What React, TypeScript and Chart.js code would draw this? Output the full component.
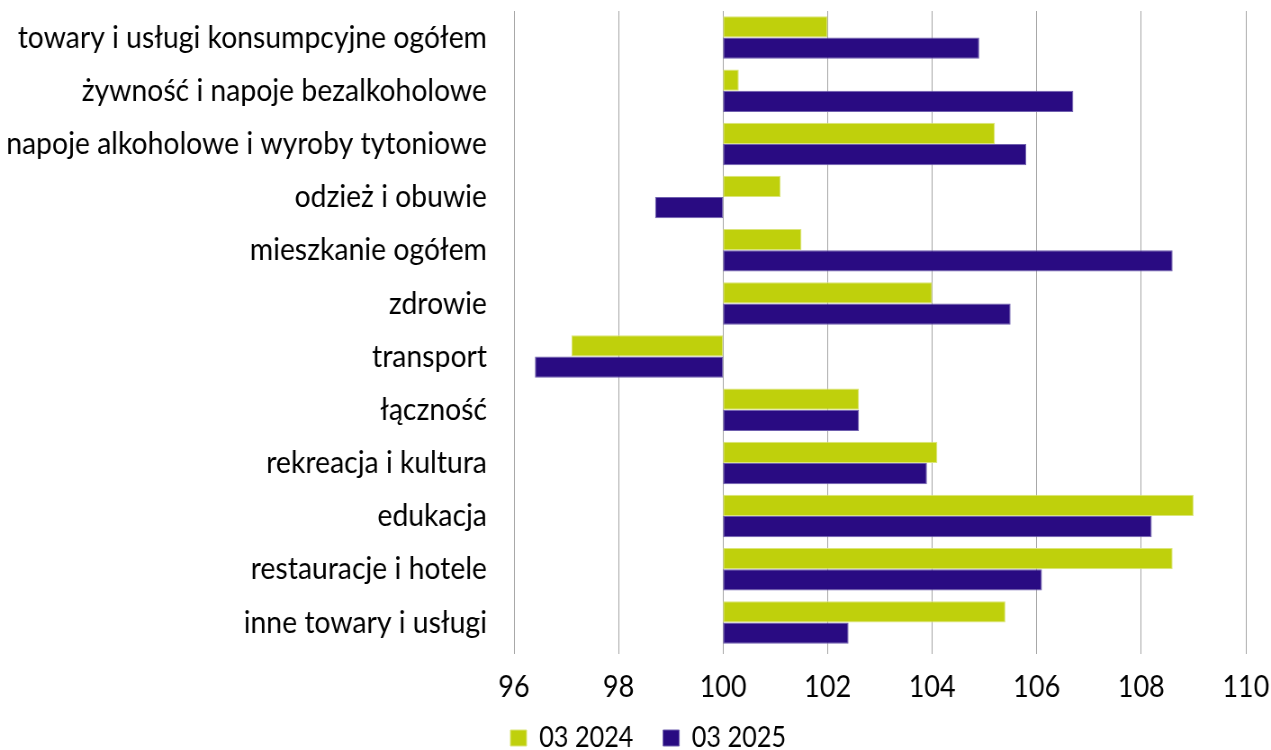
import React, { useEffect, useRef } from "react";
import { Chart, registerables } from "chart.js";

Chart.register(...registerables);

const categories = [
  "towary i usługi konsumpcyjne ogółem",
  "żywność i napoje bezalkoholowe",
  "napoje alkoholowe i wyroby tytoniowe",
  "odzież i obuwie",
  "mieszkanie ogółem",
  "zdrowie",
  "transport",
  "łączność",
  "rekreacja i kultura",
  "edukacja",
  "restauracje i hotele",
  "inne towary i usługi",
];

const series2024 = [102.0, 100.3, 105.2, 101.1, 101.5, 104.0, 97.1, 102.6, 104.1, 109.0, 108.6, 105.4];
const series2025 = [104.9, 106.7, 105.8, 98.7, 108.6, 105.5, 96.4, 102.6, 103.9, 108.2, 106.1, 102.4];

const seriesLabels = ["03 2024", "03 2025"];
const baseValue = 100;
const xMin = 96;
const xMax = 110;
const xStep = 2;

const FONT = "Lato";
// the reference is horizontally condensed; draw wider and squeeze with CSS
const SQUEEZE = 0.9;
const DISPLAY_W = 1271;
const CANVAS_W = Math.round(DISPLAY_W / SQUEEZE);
const CANVAS_H = 780;

export default function App() {
  const ref = useRef<HTMLCanvasElement | null>(null);

  useEffect(() => {
    if (!ref.current) return;
    const chart = new Chart(ref.current, {
      type: "bar",
      data: {
        labels: categories,
        datasets: [
          {
            label: seriesLabels[0],
            data: series2024.map((v) => [baseValue, v]) as any,
            backgroundColor: "#bfd00c",
            borderColor: "#dbe57a",
            borderWidth: 1,
            borderSkipped: false,
            categoryPercentage: 0.8,
            barPercentage: 1.0,
          },
          {
            label: seriesLabels[1],
            data: series2025.map((v) => [baseValue, v]) as any,
            backgroundColor: "#290b82",
            borderColor: "#6f5fae",
            borderWidth: 1,
            borderSkipped: false,
            categoryPercentage: 0.8,
            barPercentage: 1.0,
          },
        ],
      },
      options: {
        indexAxis: "y",
        animation: false,
        responsive: false,
        maintainAspectRatio: false,
        devicePixelRatio: 1,
        layout: { padding: { top: 11, right: 28, left: 0, bottom: 0 } },
        plugins: {
          tooltip: { enabled: false },
          legend: {
            position: "bottom",
            align: "start",
            labels: {
              boxWidth: 18,
              boxHeight: 16,
              padding: 33,
              color: "#000",
              font: { family: FONT, size: 28 },
            },
          },
        },
        scales: {
          x: {
            min: xMin,
            max: xMax,
            ticks: {
              stepSize: xStep,
              color: "#000",
              padding: 15,
              font: { family: FONT, size: 30 },
            },
            grid: {
              color: "#a3a3a3",
              lineWidth: 1,
              drawTicks: true,
              tickLength: 5,
            },
            border: { display: false },
            afterFit: (scale: any) => {
              scale.height = 60;
              scale.paddingLeft = 0;
              scale.paddingRight = 0;
            },
          },
          y: {
            ticks: {
              color: "#000",
              padding: 30,
              font: { family: FONT, size: 31.5 },
            },
            grid: { display: false, drawTicks: false },
            border: { display: false },
            afterFit: (scale: any) => {
              scale.width = Math.round(514 / SQUEEZE);
              scale.paddingTop = 0;
              scale.paddingBottom = 0;
            },
          },
        },
      },
      plugins: [
        {
          id: "legendPlace",
          afterLayout(c: any) {
            const lg = c.legend;
            if (lg) {
              const h = lg.height;
              lg.left = Math.round(510 / SQUEEZE) - 33;
              lg.right = c.width;
              lg.width = lg.right - lg.left;
              lg.top = 691;
              lg.bottom = lg.top + h;
            }
          },
        },
      ],
    });
    return () => chart.destroy();
  }, []);

  return (
    <div style={{ position: "fixed", left: 0, top: 0, width: DISPLAY_W, height: CANVAS_H, overflow: "hidden" }}>
      <canvas
        ref={ref}
        width={CANVAS_W}
        height={CANVAS_H}
        style={{ width: DISPLAY_W + "px", height: CANVAS_H + "px", display: "block" }}
      />
    </div>
  );
}
